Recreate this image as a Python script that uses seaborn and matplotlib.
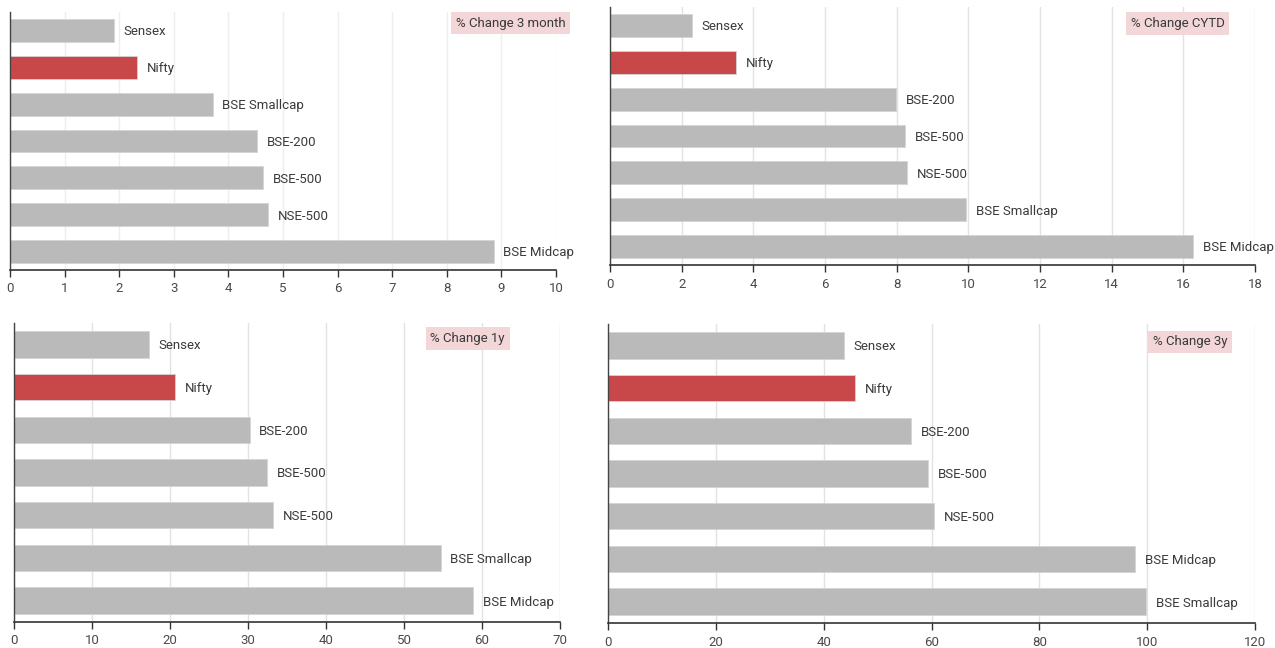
import matplotlib
matplotlib.use("Agg")
import matplotlib.pyplot as plt
import seaborn as sns
import pandas as pd

sns.set_theme(style="white")
plt.rcParams['font.family'] = ['Roboto', 'DejaVu Sans']

# ---- data ----
cats_3m = ["Sensex", "Nifty", "BSE Smallcap", "BSE-200", "BSE-500", "NSE-500", "BSE Midcap"]
vals_3m = [1.90, 2.32, 3.71, 4.53, 4.63, 4.72, 8.86]

cats_cytd = ["Sensex", "Nifty", "BSE-200", "BSE-500", "NSE-500", "BSE Smallcap", "BSE Midcap"]
vals_cytd = [2.28, 3.53, 7.98, 8.23, 8.29, 9.94, 16.28]

cats_1y = ["Sensex", "Nifty", "BSE-200", "BSE-500", "NSE-500", "BSE Smallcap", "BSE Midcap"]
vals_1y = [17.3, 20.7, 30.2, 32.4, 33.2, 54.7, 58.9]

cats_3y = ["Sensex", "Nifty", "BSE-200", "BSE-500", "NSE-500", "BSE Midcap", "BSE Smallcap"]
vals_3y = [43.7, 45.8, 56.2, 59.3, 60.4, 97.8, 99.8]

titles = ["% Change 3 month", "% Change CYTD", "% Change 1y", "% Change 3y"]
xmaxes = [10, 18, 70, 120]
xsteps = [1, 2, 10, 20]

GRAY = "#bababa"
RED = "#c8484a"
highlight = "Nifty"

W, H = 1275, 648
fig = plt.figure(figsize=(W / 100, H / 100), dpi=100)

# axes rects in pixel coords: left, right, top, bottom
rects = [
    (10, 556, 12, 270),
    (610, 1255, 7, 265),
    (14, 560, 323, 622),
    (608, 1255, 324, 623),
]
grid_colors = ["#eeeeee", "#e2e2e2", "#e2e2e2", "#e2e2e2"]
title_pos = [(0.917, 0.957), (0.880, 0.936), (0.831, 0.948), (0.900, 0.941)]

panels = [(cats_3m, vals_3m), (cats_cytd, vals_cytd), (cats_1y, vals_1y), (cats_3y, vals_3y)]

for i, (cats, vals) in enumerate(panels):
    l, r, t, b = rects[i]
    ax = fig.add_axes([l / W, (H - b) / H, (r - l) / W, (b - t) / H])
    df = pd.DataFrame({"cat": cats, "val": vals})
    pal = {c: (RED if c == highlight else GRAY) for c in cats}
    sns.barplot(data=df, x="val", y="cat", hue="cat", palette=pal, order=cats,
                hue_order=cats, width=0.62, legend=False, ax=ax, saturation=1,
                edgecolor="#d4d4d4", linewidth=0.6, zorder=2)
    ax.set_xlim(0, xmaxes[i])
    ax.set_xticks(range(0, xmaxes[i] + 1, xsteps[i]))
    ax.set_ylim(6.5, -0.5)
    ax.set_xlabel("")
    ax.set_ylabel("")
    ax.set_yticks([])
    ax.grid(axis="x", color=grid_colors[i], linewidth=1, zorder=0)
    ax.set_axisbelow(True)
    for s in ["top", "right"]:
        ax.spines[s].set_visible(False)
    ax.spines["left"].set_color("#444444")
    ax.spines["left"].set_linewidth(1.0)
    ax.spines["bottom"].set_color("#333333")
    ax.spines["bottom"].set_linewidth(1.2)
    ax.tick_params(axis="x", direction="out", length=5, width=1, color="#333333",
                   labelsize=9.5, labelcolor="#4a4a4a", pad=4, bottom=True)
    for j, (c, v) in enumerate(zip(cats, vals)):
        ax.annotate(c, xy=(v, j), xytext=(7, -1), textcoords="offset points",
                    va="center", ha="left", fontsize=9.5, color="#3a3a3a")
    tx, ty = title_pos[i]
    ax.text(tx, ty, titles[i], transform=ax.transAxes, ha="center", va="center",
            fontsize=9.5, color="#3a3a3a", zorder=5,
            bbox=dict(boxstyle="square,pad=0.35", facecolor="#f3d6d8", edgecolor="none"))

fig.savefig("out.png", dpi=100)
